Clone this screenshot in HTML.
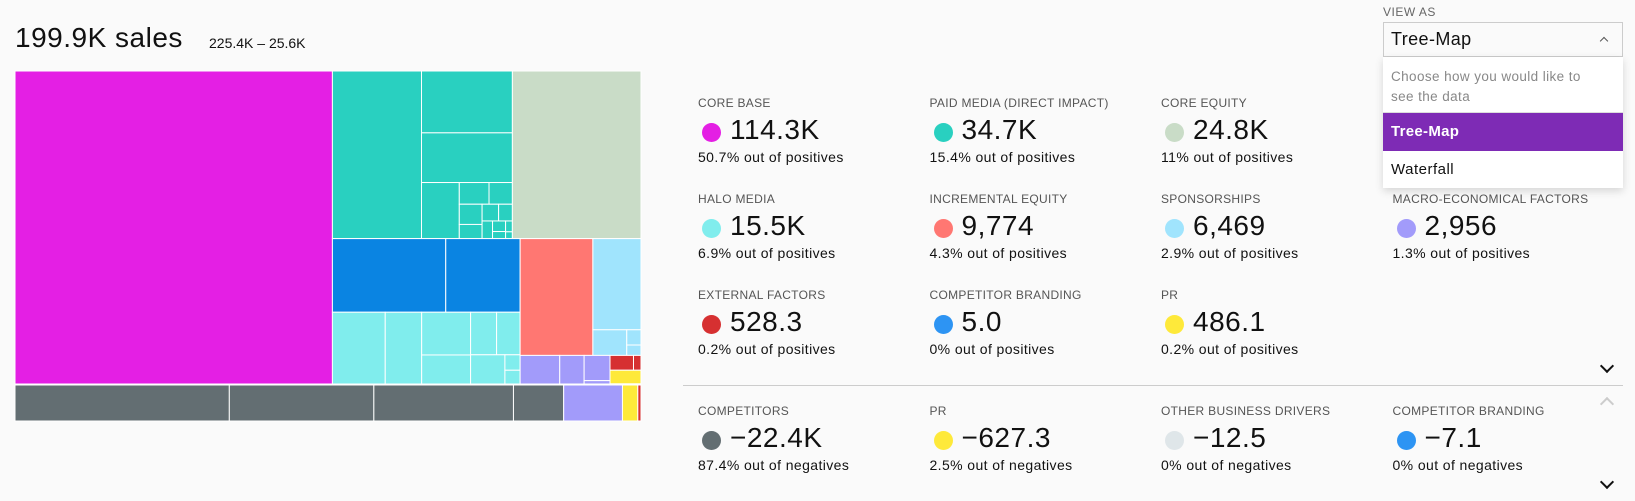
<!DOCTYPE html>
<html><head><meta charset="utf-8">
<style>
body{margin:0;width:1635px;height:501px;background:#fafafa;font-family:"Liberation Sans",sans-serif;color:#111;position:relative;overflow:hidden}
.abs{position:absolute}
.card{position:absolute;width:225px}
.card .lab{position:absolute;left:0;top:0;font-size:12px;color:#555;letter-spacing:.3px;white-space:nowrap}
.card .dot{position:absolute;left:4px;top:27px;width:19px;height:19px;border-radius:50%}
.card .val{position:absolute;left:32px;top:18px;font-size:28px;font-weight:300;white-space:nowrap;letter-spacing:.5px}
.card .pct{position:absolute;left:0;top:53px;font-size:14px;white-space:nowrap;letter-spacing:.4px}
.chev{position:absolute;width:8px;height:8px;border-right:2px solid #111;border-bottom:2px solid #111;transform:rotate(45deg)}
</style></head><body>
<div class="abs" style="left:15px;top:22px;font-size:28px;letter-spacing:.5px">199.9K sales</div>
<div class="abs" style="left:209px;top:35px;font-size:14px">225.4K – 25.6K</div>
<svg id="tm" class="abs" style="left:0;top:0" width="660" height="430"></svg>

<div id="cards"></div>
<div class="abs" style="left:683px;top:385px;width:940px;height:1px;background:#ccc"></div>
<div class="chev" style="left:1602px;top:361px"></div>
<div class="chev" style="left:1602px;top:399px;border-color:#ccc;transform:rotate(225deg)"></div>
<div class="chev" style="left:1602px;top:477px"></div>

<div class="abs" style="left:1383px;top:5px;font-size:12px;color:#666;letter-spacing:.5px">VIEW AS</div>
<div class="abs" style="left:1383px;top:22px;width:238px;height:33px;border:1px solid #ccc;background:#fafafa">
<div class="abs" style="left:7px;top:6px;font-size:18px;letter-spacing:.4px">Tree-Map</div>
<div class="abs" style="right:15px;top:15px;width:5px;height:5px;border-left:1.5px solid #555;border-top:1.5px solid #555;transform:rotate(45deg)"></div>
</div>
<div class="abs" style="left:1383px;top:57px;width:240px;height:131px;background:#fff;box-shadow:0 3px 8px rgba(0,0,0,.15)">
<div class="abs" style="left:8px;top:10px;font-size:13.5px;color:#888;line-height:20px;letter-spacing:.4px">Choose how you would like to<br>see the data</div>
<div class="abs" style="left:0;top:55px;width:240px;height:1px;background:#ddd"></div>
<div class="abs" style="left:0;top:56px;width:240px;height:38px;background:#7e2bb5;color:#fff;font-size:15px;font-weight:bold;line-height:38px;text-indent:8px;letter-spacing:.3px">Tree-Map</div>
<div class="abs" style="left:0;top:94px;width:240px;height:37px;font-size:15px;line-height:37px;text-indent:8px;letter-spacing:.5px">Waterfall</div>
</div>

<script>
// ---- positives (group totals in K) ----
const posNames=["Core Base","Paid Media","Core Equity","Other Media","Halo Media","Incremental Equity","Sponsorships","Macro","External","PR","Competitor Branding"];
const posTotals=[114.3,34.7,24.8,15.9,15.5,9.774,6.469,2.956,0.528,0.486,0.005];
const posColors=["#e41fe4","#29d0c0","#c9dcc7","#0a84e2","#80eded","#ff7772","#a0e4fd","#a29bfa","#d63031","#fee93a","#2d94f3"];
const posChildren=[
 [114.3],
 [16.2,6.1,4.9,2.3,0.7,0.55,0.5,0.35,0.3,0.25,0.2,0.15,0.1,0.08,0.05],
 [24.8],
 [9.6,6.3],
 [4.35,3.0,2.4,1.63,1.27,1.15,1.15,0.27,0.24],
 [9.774],
 [5.05,1.0,0.25,0.17],
 [1.3,0.8,0.75,0.1],
 [0.4,0.128],
 [0.486],
 [0.005]
];
// ---- negatives (K) ----
const negColors=["#636e72","#a29bfa","#fee93a","#d63031"];
const negChildren=[[8.75,5.9,5.7,2.05],[2.4],[0.627],[0.13]];

// ---- legend cards ----
const cardLabels=["CORE BASE","PAID MEDIA (DIRECT IMPACT)","CORE EQUITY","HALO MEDIA","INCREMENTAL EQUITY","SPONSORSHIPS","MACRO-ECONOMICAL FACTORS","EXTERNAL FACTORS","COMPETITOR BRANDING","PR","COMPETITORS","PR","OTHER BUSINESS DRIVERS","COMPETITOR BRANDING"];
const cardValues=["114.3K","34.7K","24.8K","15.5K","9,774","6,469","2,956","528.3","5.0","486.1","−22.4K","−627.3","−12.5","−7.1"];
const cardPcts=["50.7% out of positives","15.4% out of positives","11% out of positives","6.9% out of positives","4.3% out of positives","2.9% out of positives","1.3% out of positives","0.2% out of positives","0% out of positives","0.2% out of positives","87.4% out of negatives","2.5% out of negatives","0% out of negatives","0% out of negatives"];
const cardColors=["#e41fe4","#29d0c0","#c9dcc7","#80eded","#ff7772","#a0e4fd","#a29bfa","#d63031","#2d94f3","#fee93a","#636e72","#fee93a","#dfe6e9","#2d94f3"];
const cardSlots=[[0,0],[1,0],[2,0],[0,1],[1,1],[2,1],[3,1],[0,2],[1,2],[2,2],[0,3],[1,3],[2,3],[3,3]];

const colX=c=>698+c*231.5, rowY=r=>r<3?96+r*96:404;
const cards=document.getElementById('cards');
cardLabels.forEach((l,i)=>{
 const d=document.createElement('div');d.className='card';
 
 
 d.style.left=colX(cardSlots[i][0])+'px';d.style.top=rowY(cardSlots[i][1])+'px';
 d.innerHTML='<div class="lab"></div><div class="dot"></div><div class="val"></div><div class="pct"></div>';
 d.querySelector('.lab').textContent=l;
 d.querySelector('.dot').style.background=cardColors[i];
 d.querySelector('.val').textContent=cardValues[i];
 d.querySelector('.pct').textContent=cardPcts[i];
 cards.appendChild(d);
});

// ---- treemap ----
const sum=a=>a.reduce((s,v)=>s+v,0);
function worst(row,w){const s=sum(row),mx=Math.max(...row),mn=Math.min(...row);return Math.max(w*w*mx/(s*s),s*s/(w*w*mn));}
function squarify(vals,x,y,w,h){
 const tot=sum(vals),k=w*h/tot;const areas=vals.map(v=>v*k);const out=[];
 let i=0;
 while(i<areas.length){
  const side=Math.min(w,h);let row=[areas[i]];let j=i+1;
  while(j<areas.length&&worst(row.concat(areas[j]),side)<=worst(row,side)){row.push(areas[j]);j++;}
  const rs=sum(row);
  if(w>=h){const cw=rs/h;let yy=y;row.forEach(a=>{const hh=a/cw;out.push([x,yy,cw,hh]);yy+=hh;});x+=cw;w-=cw;}
  else{const rh=rs/w;let xx=x;row.forEach(a=>{const ww=a/rh;out.push([xx,y,ww,rh]);xx+=ww;});y+=rh;h-=rh;}
  i=j;
 }
 return out;
}
// layout tree: 'h' = side by side, 'v' = stacked; leaves are group indexes
const layoutTree=['h',0,['v',['h',1,2],['h',['v',3,4],['v',['h',5,6],['h',7,['v',8,9,10]]]]]];
const groupRects=[];
function nodeVal(n){return typeof n==='number'?posTotals[n]:sum(n.slice(1).map(nodeVal));}
function layout(n,x,y,w,h){
 if(typeof n==='number'){groupRects[n]=[x,y,w,h];return;}
 const kids=n.slice(1),tot=nodeVal(n);let off=0;
 kids.forEach(k=>{const f=nodeVal(k)/tot;
  if(n[0]==='h'){layout(k,x+off,y,w*f,h);off+=w*f;}else{layout(k,x,y+off,w,h*f);off+=h*f;}});
}
const svg=document.getElementById('tm');const NS='http://www.w3.org/2000/svg';
function rect(r,c,name){const e=document.createElementNS(NS,'rect');
 e.setAttribute('x',r[0]);e.setAttribute('y',r[1]);e.setAttribute('width',Math.max(0,r[2]));e.setAttribute('height',Math.max(0,r[3]));
 e.setAttribute('fill',c);e.setAttribute('stroke','#fff');e.setAttribute('stroke-width','1');
 
 
 svg.appendChild(e);}
const X0=15,X1=641,PY0=71,PY1=384,NY0=385,NY1=421;
layout(layoutTree,X0,PY0,X1-X0,PY1-PY0);
groupRects.forEach((g,gi)=>{
 squarify(posChildren[gi],g[0],g[1],g[2],g[3]).forEach(r=>rect(r,posColors[gi],'treemap-cell-positive'));
});
const negTot=sum(negChildren.map(sum));let nx=X0;
negChildren.forEach((ch,gi)=>{
 ch.forEach(v=>{const w=v/negTot*(X1-X0);rect([nx,NY0,w,NY1-NY0],negColors[gi],'treemap-cell-negative');nx+=w;});
});
</script>
</body></html>
